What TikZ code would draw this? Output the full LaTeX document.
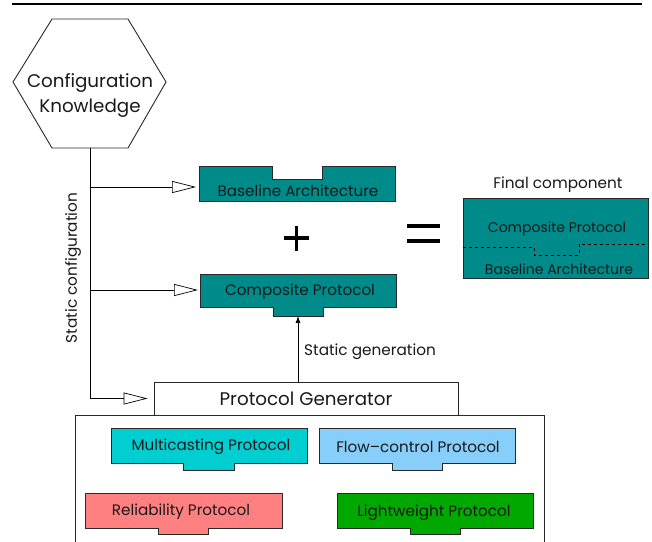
\documentclass[tikz,border=0pt]{standalone}
\usepackage{fontspec}
\setmainfont{Poppins}
\usetikzlibrary{arrows.meta}
\definecolor{tealA}{RGB}{0,139,139}
\definecolor{cyanA}{RGB}{0,206,209}
\definecolor{skyA}{RGB}{135,206,250}
\definecolor{salmonA}{RGB}{255,128,128}
\definecolor{greenA}{RGB}{0,168,0}
\definecolor{edgeA}{RGB}{40,40,40}
\begin{document}
\begin{tikzpicture}[x=1pt,y=-1pt,
  boxst/.style={draw=edgeA,line width=0.9pt},
  lbl/.style={inner sep=0pt,font=\fontsize{15.2}{18}\selectfont,text=black!90},
  biglbl/.style={inner sep=0pt,font=\fontsize{18.3}{22}\selectfont,text=black!90},
  smalllbl/.style={inner sep=0pt,font=\fontsize{15.3}{18}\selectfont,text=black!90},
  innerlbl/.style={inner sep=0pt,font=\fontsize{14}{17}\selectfont,text=black!90},
  openarr/.style={line width=0.7pt,-{Triangle[open,length=24pt,width=12pt]}},
  genarr/.style={line width=0.7pt,-{Latex[length=7pt,width=5pt]}},
  conn/.style={line width=0.7pt}]
\useasboundingbox (0,0) rectangle (652,541);
\fill[white] (0,0) rectangle (652,541);
% top rule
\draw[line width=2.6pt] (12,4) -- (642,4);
% hexagon
\draw[boxst] (52,19) -- (128,19) -- (166,82) -- (128,148) -- (52,148) -- (13,82) -- cycle;
\node[biglbl,align=center] (ck) at (90,95) {Configuration\\[3pt]Knowledge};
\coordinate (hb) at (90,148);
% baseline architecture
\draw[boxst,fill=tealA] (199,166) -- (272,166) -- (272,179) -- (322,179) -- (322,166) -- (395,166) -- (395,201) -- (199,201) -- cycle;
\node[lbl] (ba) at (298,191) {Baseline Architecture};
\coordinate (baL) at (199,187);
% plus
\draw[line width=3.2pt] (284,238) -- (309,238) (296.5,226) -- (296.5,251);
% composite protocol
\draw[boxst,fill=tealA] (200,274) -- (396,274) -- (396,307) -- (323,307) -- (323,316) -- (273,316) -- (273,307) -- (200,307) -- cycle;
\node[lbl] (cp) at (300,291.5) {Composite Protocol};
\coordinate (cpL) at (200,290);
\coordinate (cpT) at (298,316);
% equals
\draw[line width=3.5pt] (407,226) -- (440,226) (407,241) -- (440,241);
% final component
\node[smalllbl] (fc) at (558,185) {Final component};
\draw[boxst,fill=tealA] (463,198) rectangle (648,278);
\draw[dashed,line width=0.7pt] (463,247) -- (534,247) -- (534,255) -- (579,255) -- (579,244) -- (648,244);
\node[innerlbl] (fcp) at (557,228.5) {Composite Protocol};
\node[innerlbl] (fba) at (559,269) {Baseline Architecture};
% protocol generator
\node[boxst,minimum width=304pt,minimum height=33pt,inner sep=0pt,biglbl] (pg) at (306,398.5) {Protocol Generator};
% connectors
\draw[conn] (hb) -- (hb |- pg.west);
\draw[openarr,shorten >=6pt] (hb |- pg.west) -- (pg.west);
\draw[openarr,shorten >=3pt] (hb |- baL) -- (baL);
\draw[openarr,shorten >=2pt] (hb |- cpL) -- (cpL);
\draw[genarr] (cpT |- pg.north) -- (cpT);
\node[smalllbl,anchor=west] (sg) at (304,352) {Static generation};
\node[smalllbl,rotate=90] (sc) at (73,268) {Static configuration};
% library container
\draw[line width=0.8pt,draw=edgeA] (75,545) -- (75,415) -- (544,415) -- (544,545);
% multicasting
\draw[boxst,fill=cyanA] (111,428) -- (307,428) -- (307,463) -- (234,463) -- (234,470) -- (183,470) -- (183,463) -- (111,463) -- cycle;
\node[lbl] (mp) at (211,446.5) {Multicasting Protocol};
% flow-control
\draw[boxst,fill=skyA] (319,428) -- (515,428) -- (515,463) -- (442,463) -- (442,470) -- (392,470) -- (392,463) -- (319,463) -- cycle;
\node[lbl] (fp) at (418,446.5) {Flow--control Protocol};
% reliability
\draw[boxst,fill=salmonA] (85,493) -- (282,493) -- (282,528) -- (208,528) -- (208,534) -- (158,534) -- (158,528) -- (85,528) -- cycle;
\node[lbl] (rp) at (181,511.5) {Reliability Protocol};
% lightweight
\draw[boxst,fill=greenA] (337,493) -- (533,493) -- (533,528) -- (460,528) -- (460,534) -- (410,534) -- (410,528) -- (337,528) -- cycle;
\node[lbl] (lp) at (434,512.5) {Lightweight Protocol};
\end{tikzpicture}
\end{document}
